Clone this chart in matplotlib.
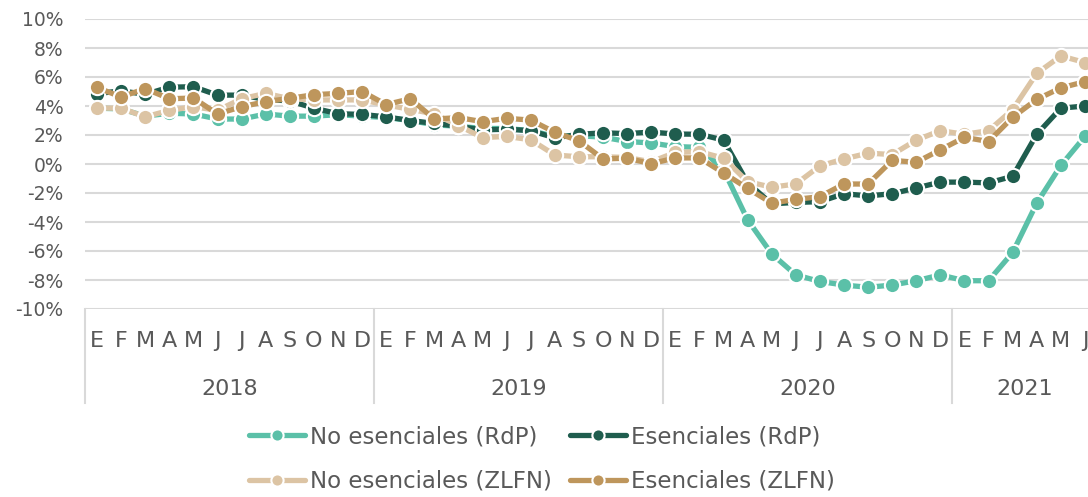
import numpy as np
import matplotlib
matplotlib.use("Agg")
import matplotlib.pyplot as plt
from matplotlib.lines import Line2D
import matplotlib.transforms as mtransforms

# ---- data ----
months = ["E", "F", "M", "A", "M", "J", "J", "A", "S", "O", "N", "D"] * 3 + ["E", "F", "M", "A", "M", "J"]
years = ["2018", "2019", "2020", "2021"]
year_counts = [12, 12, 12, 6]

no_esen_rdp = [3.85, 3.8, 3.3, 3.5, 3.45, 3.1, 3.1, 3.45, 3.3, 3.3, 3.4, 3.3,
               3.2, 3.0, 2.7, 2.6, 2.45, 2.45, 2.3, 1.9, 1.95, 1.85, 1.55, 1.45,
               1.2, 1.15, -0.4, -3.85, -6.2, -7.65, -8.1, -8.35, -8.5, -8.35, -8.05, -7.65,
               -8.05, -8.05, -6.1, -2.7, -0.1, 1.9]
esen_rdp = [4.85, 5.05, 4.8, 5.3, 5.33, 4.75, 4.75, 4.45, 4.35, 3.85, 3.47, 3.42,
            3.25, 3.0, 2.8, 2.6, 2.35, 2.4, 2.3, 1.8, 2.05, 2.15, 2.1, 2.2,
            2.07, 2.05, 1.65, -1.3, -2.75, -2.65, -2.6, -2.05, -2.2, -2.05, -1.65, -1.25,
            -1.25, -1.3, -0.85, 2.05, 3.85, 4.0]
no_esen_zlfn = [3.85, 3.85, 3.25, 3.7, 3.95, 3.7, 4.5, 4.87, 4.5, 4.42, 4.42, 4.42,
                4.07, 3.77, 3.45, 2.65, 1.82, 1.9, 1.67, 0.62, 0.5, 0.5, 0.45, 0.15,
                0.8, 0.85, 0.4, -1.22, -1.6, -1.38, -0.13, 0.35, 0.75, 0.65, 1.65, 2.3,
                2.05, 2.3, 3.75, 6.25, 7.45, 7.0]
esen_zlfn = [5.28, 4.62, 5.2, 4.5, 4.55, 3.45, 3.95, 4.3, 4.53, 4.78, 4.87, 5.0,
             4.1, 4.5, 3.1, 3.2, 2.92, 3.15, 3.03, 2.18, 1.6, 0.35, 0.4, 0.02,
             0.42, 0.42, -0.62, -1.68, -2.7, -2.44, -2.25, -1.38, -1.38, 0.25, 0.12, 0.98,
             1.84, 1.55, 3.22, 4.46, 5.25, 5.68]

series = [
    ("No esenciales (RdP)", no_esen_rdp, "#5BC0A8"),
    ("Esenciales (RdP)", esen_rdp, "#1F5D4E"),
    ("No esenciales (ZLFN)", no_esen_zlfn, "#DCC4A4"),
    ("Esenciales (ZLFN)", esen_zlfn, "#BE965C"),
]

TXT = "#595959"
GRID = "#D9D9D9"
plt.rcParams["font.family"] = ["DejaVu Sans"]

W, H = 1088, 497
fig = plt.figure(figsize=(W / 100, H / 100), dpi=100)
ax_left, ax_right, ax_top, ax_bot = 85, 1097, 19, 309
ax = fig.add_axes([ax_left / W, 1 - ax_bot / H, (ax_right - ax_left) / W, (ax_bot - ax_top) / H])

x = np.arange(len(months))
handles = []
for name, vals, col in series:
    h, = ax.plot(x, vals, color=col, lw=3.8, marker="o", ms=11, mec="white", mew=1.5,
                 solid_capstyle="round", solid_joinstyle="round", label=name)
    handles.append(h)

ax.set_xlim(-0.5, len(months) - 0.5)
ax.set_ylim(-10, 10)
ax.set_yticks(np.arange(-10, 11, 2))
ax.yaxis.set_major_formatter(lambda v, p: f"{v:.0f}%")
ax.set_xticks([])
ax.grid(axis="y", color=GRID, lw=1.5)
ax.set_axisbelow(True)
for s in ax.spines.values():
    s.set_visible(False)
ax.tick_params(axis="y", length=0, pad=15.5, labelsize=13.5, labelcolor=TXT)

# category axis (months / years)
trans = mtransforms.blended_transform_factory(ax.transData, fig.transFigure)
for i, m in enumerate(months):
    ax.text(i, 1 - 341 / H, m, transform=trans, ha="center", va="center",
            fontsize=16, color=TXT, clip_on=False)
start = 0
bounds = [-0.5]
for yr, cnt in zip(years, year_counts):
    center = start + (cnt - 1) / 2
    ax.text(center, 1 - 389 / H, yr, transform=trans, ha="center", va="center",
            fontsize=16, color=TXT, clip_on=False)
    start += cnt
    bounds.append(start - 0.5)
for b in bounds[:-1]:
    ax.add_line(Line2D([b, b], [1 - 309 / H, 1 - 403 / H], transform=trans,
                       color=GRID, lw=1.5, clip_on=False))

order = [0, 2, 1, 3]
leg = fig.legend([handles[k] for k in order], [series[k][0] for k in order],
                 ncol=2, loc="upper left", bbox_to_anchor=(249 / W, 1 - 425 / H),
                 frameon=False, fontsize=16.5, handlelength=2.45, handletextpad=0.2,
                 columnspacing=0.8, labelspacing=0.95, borderpad=0, borderaxespad=0,
                 markerscale=0.8)
for t in leg.get_texts():
    t.set_color(TXT)

fig.savefig("out.png", dpi=100)
